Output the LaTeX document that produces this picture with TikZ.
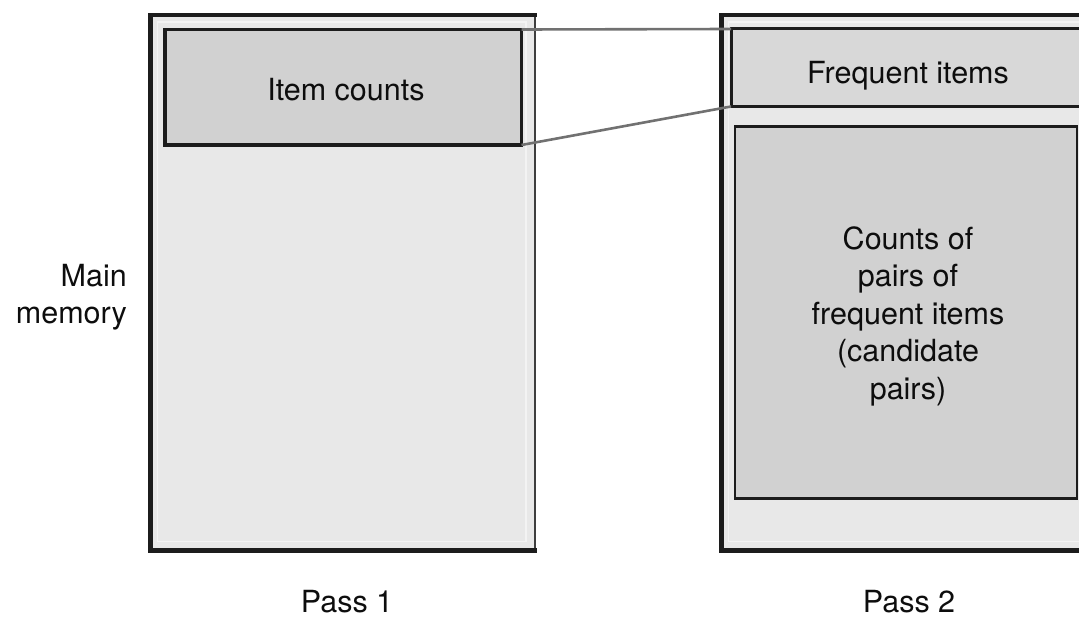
\documentclass[tikz,border=0pt]{standalone}
\usepackage{fontspec}
\setmainfont{TeX Gyre Heros}
\definecolor{panelfill}{HTML}{E8E8E8}
\definecolor{blockfill}{HTML}{D1D1D1}
\definecolor{topfill}{HTML}{D8D8D8}
\definecolor{edgeink}{HTML}{1C1C1C}
\definecolor{linkgray}{HTML}{717171}
\definecolor{sheen}{HTML}{F3F3F3}
\begin{document}
\begin{tikzpicture}[x=1pt,y=-1pt,
  panel/.style={rectangle, fill=panelfill, inner sep=0pt, outer sep=0pt},
  heavyedge/.style={draw=edgeink, line width=4.8pt, line cap=rect},
  lightedge/.style={draw=edgeink!85, line width=2.2pt},
  block/.style={rectangle, draw=edgeink, fill=blockfill, line width=3.3pt, inner sep=0pt, outer sep=0pt},
  link/.style={draw=linkgray, line width=2.6pt},
  lbl/.style={font=\fontsize{30.5}{37.5}\selectfont, text=black!95, inner sep=0pt, align=center}
]
\useasboundingbox (0,0) rectangle (1079,618);
\clip (0,0) rectangle (1079,618);

% memory panels
\node[panel, minimum width=384.5pt, minimum height=535.5pt, anchor=north west] (p1) at (150.5,15) {};
\node[panel, minimum width=400pt, minimum height=535.5pt, anchor=north west] (p2) at (721.5,15) {};

% faint inner rims
\draw[sheen, line width=1.2pt] ([xshift=7pt,yshift=-7pt]p1.north west) rectangle ([xshift=-9pt,yshift=9pt]p1.south east);
\draw[sheen, line width=1.2pt] ([xshift=7pt,yshift=-7pt]p2.north west) rectangle ([xshift=-9pt,yshift=9pt]p2.south east);

% panel borders
\draw[lightedge] (p1.north east) -- (p1.south east);
\draw[heavyedge] (p1.north east) -- (p1.north west) -- (p1.south west) -- (p1.south east);
\draw[heavyedge] (p2.north east) -- (p2.north west) -- (p2.south west) -- (p2.south east);

% contents of pass 1
\node[block, minimum width=356.5pt, minimum height=115.5pt, anchor=north west] (ic) at (165,29.5) {};
\node[lbl, anchor=base] (ict) at (346,100) {Item counts};

% contents of pass 2
\node[block, fill=topfill, line width=3pt, minimum width=400pt, minimum height=77.5pt, anchor=north west] (fi) at (731,29) {};
\node[lbl, anchor=base] (fit) at (908,83) {Frequent items};
\node[block, line width=2.6pt, minimum width=342pt, minimum height=372pt, anchor=north west] (cp) at (735,126.5) {};
\node[lbl] (cpt) at (908,316) {Counts of\\pairs of\\frequent items\\(candidate\\pairs)};

% links between the two passes
\draw[link] (ic.north east) -- (fi.north west);
\draw[link] (ic.south east) -- (fi.south west);

% side and bottom captions
\node[lbl, align=right, anchor=east] (mm) at (127,297) {Main\\memory};
\node[lbl, anchor=base] (ps1) at (347,612) {Pass 1};
\node[lbl, anchor=base] (ps2) at (909,612) {Pass 2};
\end{tikzpicture}
\end{document}
